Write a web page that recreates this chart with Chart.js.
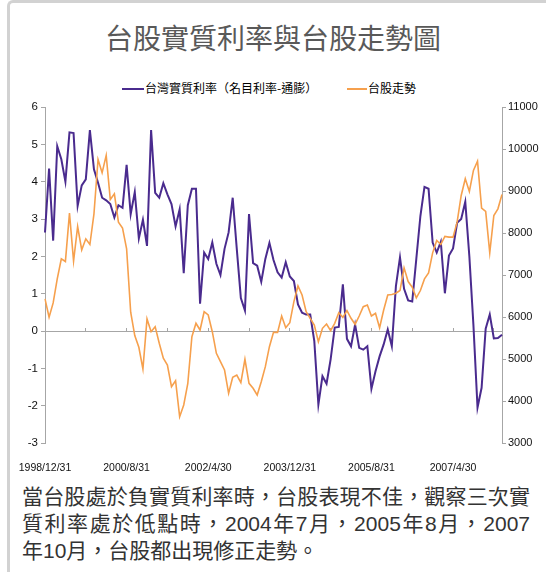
<!DOCTYPE html>
<html lang="zh-Hant">
<head>
<meta charset="utf-8">
<title>台股實質利率與台股走勢圖</title>
<script src="https://cdn.jsdelivr.net/npm/chart.js@4.4.1/dist/chart.umd.min.js"></script>
<style>
    html, body { margin: 0; padding: 0; background: #fff; }
    body { width: 546px; height: 572px; position: relative; overflow: hidden; font-family: "Noto Sans CJK TC", sans-serif; }
    .frame { position: absolute; left: 7px; top: 0; width: 560px; height: 600px; border-left: 3px solid #d2d2d2; border-top: 3px solid #d2d2d2; border-top-left-radius: 6px; }
    .title { position: absolute; left: 0; top: 18px; width: 546px; text-align: center; font-size: 28px; line-height: 38px; color: #595959; }
    .legend { position: absolute; top: 80px; height: 16px; font-size: 12px; line-height: 16px; color: #000; white-space: nowrap; }
    .legend i { position: absolute; top: 8px; height: 2px; }
    .legend span { position: absolute; top: 0; }
    .chartBox { position: absolute; left: 0; top: 95px; width: 546px; height: 383px; }
    .note { position: absolute; left: 22px; top: 483px; width: 508px; font-size: 21px; line-height: 27px; color: #333;
            font-family: "Liberation Sans", "Noto Sans CJK TC", sans-serif; }
    .note .j { text-align: justify; text-align-last: justify; }
</style>
</head>
<body>
<div class="frame"></div>
<div class="title">台股實質利率與台股走勢圖</div>
<div class="legend">
    <i style="left:122px;width:22px;background:#4a2b8e"></i>
    <span style="left:145px">台灣實質利率（名目利率-通膨）</span>
    <i style="left:347px;width:20px;background:#f6a04d"></i>
    <span style="left:368px">台股走勢</span>
</div>
<div class="chartBox"><canvas id="chart"></canvas></div>
<div class="note">
    <div class="j">當台股處於負實質利率時，台股表現不佳，觀察三次實</div>
    <div class="j">質利率處於低點時，2004年7月，2005年8月，2007</div>
    <div>年10月，台股都出現修正走勢。</div>
</div>

<script>
    // Monthly categories, 1998/12 .. 2008/4 (month-end dates)
    const startYear = 1998;
    const startMonth = 12;
    const monthCount = 113;
    const categories = [];
    for (let i = 0; i < monthCount; i++) {
        const m0 = startMonth - 1 + i;
        const y = startYear + Math.floor(m0 / 12);
        const m = (m0 % 12) + 1;
        const d = new Date(y, m, 0).getDate();
        categories.push(y + '/' + m + '/' + d);
    }

    // Labels shown under the chart
    const tickLabels = ['1998/12/31', '2000/8/31', '2002/4/30', '2003/12/31', '2005/8/31', '2007/4/30'];

    // 台灣實質利率（名目利率-通膨）, left axis
    const realRate = [
        2.64, 4.35, 2.42, 4.95, 4.6, 4.0, 5.32, 5.3, 3.35, 3.9,
        4.06, 5.38, 4.33, 3.97, 3.57, 3.5, 3.4, 3.04, 3.37, 3.3,
        4.45, 3.13, 3.72, 2.48, 2.98, 2.28, 5.38, 3.7, 3.57, 3.96,
        3.66, 3.4, 2.8, 3.26, 1.55, 3.37, 3.81, 3.81, 0.73, 2.1,
        1.93, 2.37, 1.8, 1.5, 2.2, 2.64, 3.57, 2.2, 0.88, 0.55,
        3.13, 1.82, 1.75, 1.32, 1.93, 2.36, 1.9, 1.57, 1.43, 1.84,
        1.46, 1.34, 0.71, 0.49, 0.44, 0.44, -0.27, -1.97, -1.21, -1.41,
        -0.76, 0.09, 0.11, 1.25, -0.21, -0.41, 0.17, -0.45, -0.5, -0.41,
        -1.55, -1.08, -0.68, -0.36, 0.04, -0.41, 1.2, 1.97, 1.13, 0.82,
        0.79, 1.93, 3.08, 3.86, 3.81, 2.37, 2.1, 2.39, 1.01, 2.02,
        2.21, 2.9, 3.0, 3.46, 2.0, 0.15, -2.05, -1.52, 0.06, 0.44,
        -0.2, -0.19, -0.1
    ];

    // 台股走勢, right axis
    const taiex = [
        6431, 5994, 6336, 6908, 7384, 7321, 8473, 7329, 8155, 7599,
        7861, 7726, 8457, 9751, 9434, 9847, 8798, 8933, 8258, 8115,
        7623, 6114, 5558, 5280, 4763, 5955, 5650, 5770, 5374, 5017,
        4857, 4341, 4483, 3626, 3905, 4421, 5531, 5850, 5690, 6126,
        6048, 5650, 5136, 4936, 4738, 4183, 4564, 4619, 4436, 4993,
        4421, 4302, 4143, 4460, 4817, 5293, 5636, 5635, 6024, 5745,
        5865, 6365, 6738, 6524, 6126, 5969, 5810, 5412, 5731, 5833,
        5674, 5850, 6102, 5992, 6150, 5969, 5826, 6024, 6245, 6286,
        6024, 6088, 5745, 6167, 6524, 6534, 6566, 6630, 7170, 6844,
        6709, 6455, 6630, 6908, 7051, 7527, 7821, 7726, 7917, 7901,
        7901, 8258, 8894, 9291, 8989, 9489, 9712, 8592, 8512, 7527,
        8417, 8576, 8917
    ];

    const axisGray = '#a6a6a6';
    const labelFamily = '"Liberation Sans", Arial, sans-serif';

    const ctx = document.getElementById('chart').getContext('2d');
    const chart = new Chart(ctx, {
        type: 'line',
        data: {
            labels: categories,
            datasets: [
                {
                    label: '台灣實質利率（名目利率-通膨）',
                    data: realRate,
                    yAxisID: 'y',
                    borderColor: '#4a2b8e',
                    borderWidth: 2,
                    pointRadius: 0,
                    tension: 0,
                    order: 1
                },
                {
                    label: '台股走勢',
                    data: taiex,
                    yAxisID: 'y2',
                    borderColor: '#f6a04d',
                    borderWidth: 1.6,
                    pointRadius: 0,
                    tension: 0,
                    order: 0
                }
            ]
        },
        options: {
            responsive: true,
            maintainAspectRatio: false,
            animation: false,
            layout: { padding: { top: 12, bottom: 0, left: 0, right: 0 } },
            plugins: {
                legend: { display: false },
                title: { display: false },
                tooltip: { enabled: false }
            },
            scales: {
                x: {
                    type: 'category',
                    position: 'bottom',
                    grid: { display: false },
                    border: { display: false },
                    ticks: {
                        autoSkip: false,
                        maxRotation: 0,
                        minRotation: 0,
                        padding: 11,
                        color: '#111',
                        font: { family: labelFamily, size: 10.5 },
                        callback: (v, i) => tickLabels.includes(categories[i]) ? categories[i] : ''
                    },
                    afterFit: s => { s.height = 35; }
                },
                // axis line crossing at zero, with tick marks every 10 months
                xZero: {
                    type: 'category',
                    position: { y: 0 },
                    grid: {
                        drawOnChartArea: false,
                        drawTicks: true,
                        tickLength: -4,
                        color: c => c.index % 10 === 0 ? axisGray : 'rgba(0,0,0,0)',
                        tickColor: c => c.index % 10 === 0 ? axisGray : 'rgba(0,0,0,0)'
                    },
                    border: { color: axisGray, width: 1 },
                    ticks: { display: false, autoSkip: false }
                },
                y: {
                    position: 'left',
                    min: -3,
                    max: 6,
                    ticks: { stepSize: 1, padding: 3, color: '#111', font: { family: labelFamily, size: 11.5 } },
                    grid: { drawOnChartArea: false, tickLength: 4, color: axisGray },
                    border: { color: axisGray, width: 1 },
                    afterFit: s => { s.width = 45; }
                },
                y2: {
                    position: 'right',
                    min: 3000,
                    max: 11000,
                    ticks: {
                        stepSize: 1000,
                        padding: 2,
                        color: '#111',
                        font: { family: labelFamily, size: 11 },
                        callback: v => String(v)
                    },
                    grid: { drawOnChartArea: false, tickLength: 4, color: axisGray },
                    border: { color: axisGray, width: 1 },
                    afterFit: s => { s.width = 44; }
                }
            }
        }
    });
</script>
</body>
</html>
